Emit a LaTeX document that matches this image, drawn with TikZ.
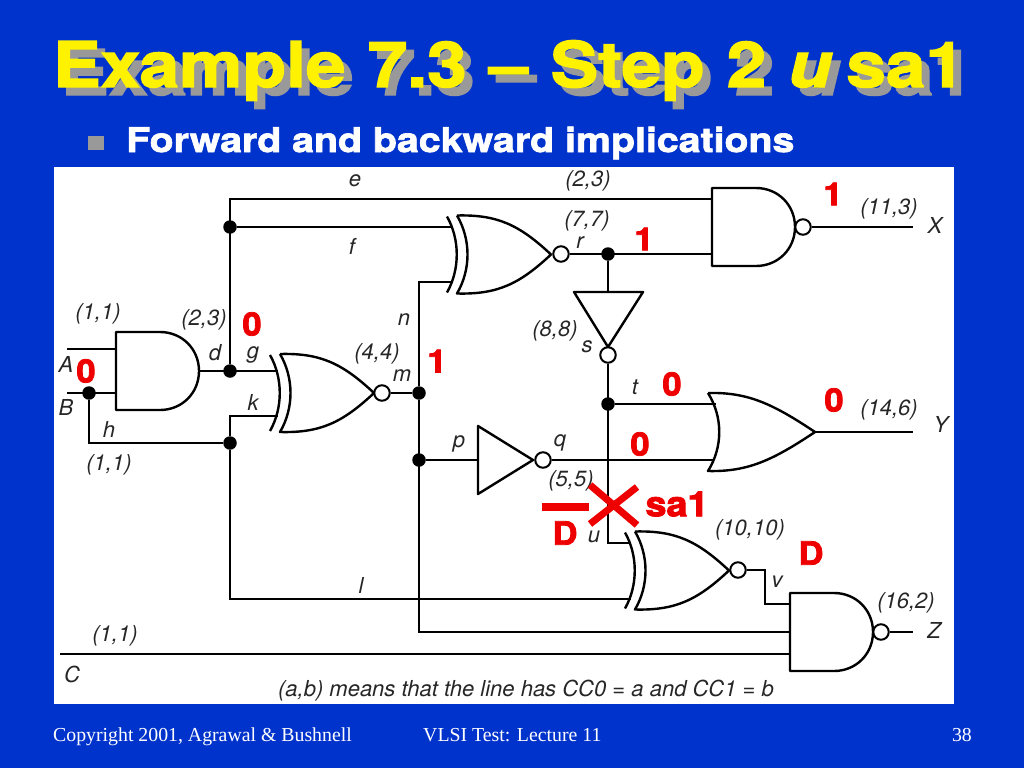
\documentclass[tikz,border=0pt]{standalone}
\usepackage{fontspec}
\setmainfont{TeX Gyre Heros}
\newfontfamily\headfont{TeX Gyre Heros}[FakeStretch=1.13,WordSpace=1.12,BoldFeatures={FakeBold=2.2},BoldItalicFeatures={FakeBold=2.2}]
\newfontfamily\subfont{TeX Gyre Heros}[FakeStretch=1.155,BoldFeatures={FakeBold=2}]
\newfontfamily\valfont{TeX Gyre Heros}[FakeStretch=1.08,BoldFeatures={FakeBold=2.5}]
\newfontfamily\footfont{Liberation Serif}
\definecolor{slideblue}{HTML}{0033CC}
\definecolor{shadowgrey}{HTML}{999999}
\definecolor{valred}{HTML}{EE0000}
\newcommand{\titletext}{Example 7.3 – Step 2 \textit{u}\hspace{-0.13em} sa1}
\tikzset{
  wire/.style={line width=2pt,black},
  fatwire/.style={line width=2.7pt,black},
  gatebody/.style={line width=2.4pt,black,line join=round},
  dotnode/.style={circle,fill=black,inner sep=0pt,minimum size=13.5pt},
  bubble/.style={circle,draw=black,line width=2pt,fill=white,inner sep=0pt,minimum size=15.5pt},
  lbl/.style={inner sep=0pt,font=\fontsize{22}{26}\selectfont\itshape,text=black!85},
  val/.style={inner sep=0pt,text=valred,font=\valfont\fontsize{32}{36}\selectfont\bfseries},
  headtext/.style={inner sep=0pt,anchor=base west,font=\headfont\fontsize{63}{72}\selectfont\bfseries},
  foot/.style={inner sep=0pt,anchor=base west,text=white,font=\footfont\fontsize{19.8}{24}\selectfont},
  andgate/.pic={
    \draw[gatebody] (0,-39) -- (44,-39) .. controls (66,-39) and (83,-22) .. (83,0)
      .. controls (83,22) and (66,39) .. (44,39) -- (0,39) -- cycle;
  },
  orgate/.pic={
    \draw[gatebody] (0,-39) .. controls (40,-40) and (65,-28) .. (107,0)
      .. controls (65,28) and (40,40) .. (0,39) .. controls (15,15) and (15,-15) .. (0,-39);
  },
  xorgate/.pic={
    \draw[gatebody] (0,-38) .. controls (13,-15) and (13,15) .. (0,38);
    \draw[gatebody] (10,-39) .. controls (50,-40) and (72,-30) .. (104,0)
      .. controls (72,30) and (50,40) .. (10,39) .. controls (24,15) and (24,-15) .. (10,-39);
  },
}
\begin{document}
\begin{tikzpicture}[x=1pt,y=-1pt]
  \useasboundingbox (0,0) rectangle (1024,768);
  \fill[slideblue] (0,0) rectangle (1024,768);
  \fill[white] (54,167) rectangle (954,704);
  % heading
  \node[headtext,text=shadowgrey] (titleback) at (61,95) {\titletext};
  \node[headtext,text=yellow] (title) at (53,87) {\titletext};
  \fill[shadowgrey] (88,136) rectangle (104,150);
  \node[inner sep=0pt,anchor=base west,text=white,font=\subfont\fontsize{34}{38}\selectfont\bfseries] (sub) at (126,152) {Forward and backward implications};
  % junctions
  \node[dotnode] (jb) at (89,393) {};
  \node[dotnode] (jd) at (230,371) {};
  \node[dotnode] (jf) at (230,227) {};
  \node[dotnode] (jh) at (230,443) {};
  \node[dotnode] (jm) at (419,393) {};
  \node[dotnode] (jp) at (419,460) {};
  \node[dotnode] (jr) at (608,254) {};
  \node[dotnode] (jt) at (608,404) {};
  % inverted outputs
  \node[bubble] (bm) at (382,393) {};
  \node[bubble] (br) at (561,254) {};
  \node[bubble] (bx) at (803,227) {};
  \node[bubble] (bs) at (608,355) {};
  \node[bubble] (bq) at (543,460) {};
  \node[bubble] (bv) at (738,570) {};
  \node[bubble] (bz) at (881,632) {};
  % wire ends
  \coordinate (Ain) at (67,349);
  \coordinate (Aout) at (116,349);
  \coordinate (Bin) at (67,393);
  \coordinate (Bout) at (116,393);
  \coordinate (Cin) at (60,654);
  \coordinate (Cout) at (790,654);
  \coordinate (dout) at (199,371);
  \coordinate (gin) at (278,371);
  \coordinate (kin) at (278,416);
  \coordinate (ein) at (712,199);
  \coordinate (fin) at (453,227);
  \coordinate (nin) at (453,282);
  \coordinate (rin) at (712,254);
  \coordinate (stop) at (608,292);
  \coordinate (pin) at (478,460);
  \coordinate (qthick) at (636,460);
  \coordinate (qin) at (713,460);
  \coordinate (tin) at (716,404);
  \coordinate (ubend) at (608,505);
  \coordinate (uin) at (631,543);
  \coordinate (lin) at (631,599);
  \coordinate (vbend) at (765,570);
  \coordinate (vin) at (790,604);
  \coordinate (nz) at (790,632);
  \coordinate (Xout) at (913,227);
  \coordinate (Yfrom) at (815,432);
  \coordinate (Yout) at (913,432);
  \coordinate (Zout) at (913,632);
  \begin{scope}[wire]
    \draw (Ain) to (Aout);
    \draw (Bin) to (Bout);
    \draw (dout) to (gin);
    \draw (jd) |- (ein);
    \draw (jf) to (fin);
    \draw (jb) |- (jh);
    \draw (jh) |- (kin);
    \draw (jh) |- (lin);
    \draw (bm) to (jm);
    \draw (jm) |- (nin);
    \draw (jm) |- (nz);
    \draw (jp) to (pin);
    \draw (br) to (rin);
    \draw (jr) to (stop);
    \draw (jt) to (tin);
    \draw (bq) to (qin);
    \draw (Cin) to (Cout);
    \draw (bx) to (Xout);
    \draw (Yfrom) to (Yout);
    \draw (bz) to (Zout);
    \draw (bv) to (vbend) |- (vin);
    \draw (ubend) |- (uin);
  \end{scope}
  \draw[fatwire] (bq) to (qthick);
  \draw[fatwire] (bs) to (ubend);
  % gates
  \pic at (116,371) {andgate};
  \pic at (712,227) {andgate};
  \pic at (790,632) {andgate};
  \pic at (270,393) {xorgate};
  \pic at (447,254.5) {xorgate};
  \pic at (625,570.5) {xorgate};
  \pic at (708,432) {orgate};
  \draw[gatebody] (478,426) -- (533,460) -- (478,494) -- cycle;
  \draw[gatebody] (574,292) -- (643,292) -- (608,347) -- cycle;
  % labels
  \node[lbl] (le) at (355,181) {e};
  \node[lbl] (lf) at (352,246) {f};
  \node[lbl] (ld) at (215,353) {d};
  \node[lbl] (lg) at (253,355) {g};
  \node[lbl] (lk) at (253,402) {k};
  \node[lbl] (lh) at (109,429) {h};
  \node[lbl] (ll) at (361,585) {l};
  \node[lbl] (lm) at (402,376) {m};
  \node[lbl] (ln) at (404,320) {n};
  \node[lbl] (lp) at (459,444) {p};
  \node[lbl] (lq) at (560,443) {q};
  \node[lbl] (lr) at (580,243) {r};
  \node[lbl] (ls) at (587,347) {s};
  \node[lbl] (lt) at (635,387) {t};
  \node[lbl] (lu) at (594,537) {u};
  \node[lbl] (lv) at (777,582) {v};
  \node[lbl] (lA) at (66,364) {A};
  \node[lbl] (lB) at (66,407) {B};
  \node[lbl] (lC) at (72,674) {C};
  \node[lbl] (lX) at (935,225) {X};
  \node[lbl] (lY) at (941,424) {Y};
  \node[lbl] (lZ) at (934,630) {Z};
  \node[lbl] (cc1) at (98,314) {(1,1)};
  \node[lbl] (cc2) at (204,320) {(2,3)};
  \node[lbl] (cc3) at (109,465) {(1,1)};
  \node[lbl] (cc4) at (115,636) {(1,1)};
  \node[lbl] (cc5) at (377,354) {(4,4)};
  \node[lbl] (cc6) at (588,181) {(2,3)};
  \node[lbl] (cc7) at (587,221) {(7,7)};
  \node[lbl] (cc8) at (555,331) {(8,8)};
  \node[lbl] (cc9) at (571,481) {(5,5)};
  \node[lbl] (cc10) at (750,530) {(10,10)};
  \node[lbl] (cc11) at (889,209) {(11,3)};
  \node[lbl] (cc12) at (889,410) {(14,6)};
  \node[lbl] (cc13) at (906,603) {(16,2)};
  \node[lbl] (note) at (526,691) {(a,b) means that the line has CC0 = a and CC1 = b};
  % logic values
  \node[val] (v1) at (833,194) {1};
  \node[val] (v2) at (644,239) {1};
  \node[val] (v3) at (252,324) {0};
  \node[val] (v4) at (86,371) {0};
  \node[val] (v5) at (437,361) {1};
  \node[val] (v6) at (672,384) {0};
  \node[val] (v7) at (834,400) {0};
  \node[val] (v8) at (640,444) {0};
  \node[val,font=\valfont\fontsize{35}{38}\selectfont\bfseries] (vs) at (677,504) {sa1};
  \node[val] (vd) at (565,533) {D};
  \node[val] (ve) at (811,553) {D};
  % fault mark
  \draw[valred,line width=7pt] (590,485) -- (637,525);
  \draw[valred,line width=7pt] (637,487) -- (590,524);
  \fill[valred] (542,503) rectangle (589,511);
  % footer
  \node[foot] (fa) at (53,741) {Copyright 2001, Agrawal \& Bushnell};
  \node[foot] (fb) at (423,741) {VLSI Test: Lecture 11};
  \node[foot,anchor=base east] (fc) at (972,741) {38};
\end{tikzpicture}
\end{document}
